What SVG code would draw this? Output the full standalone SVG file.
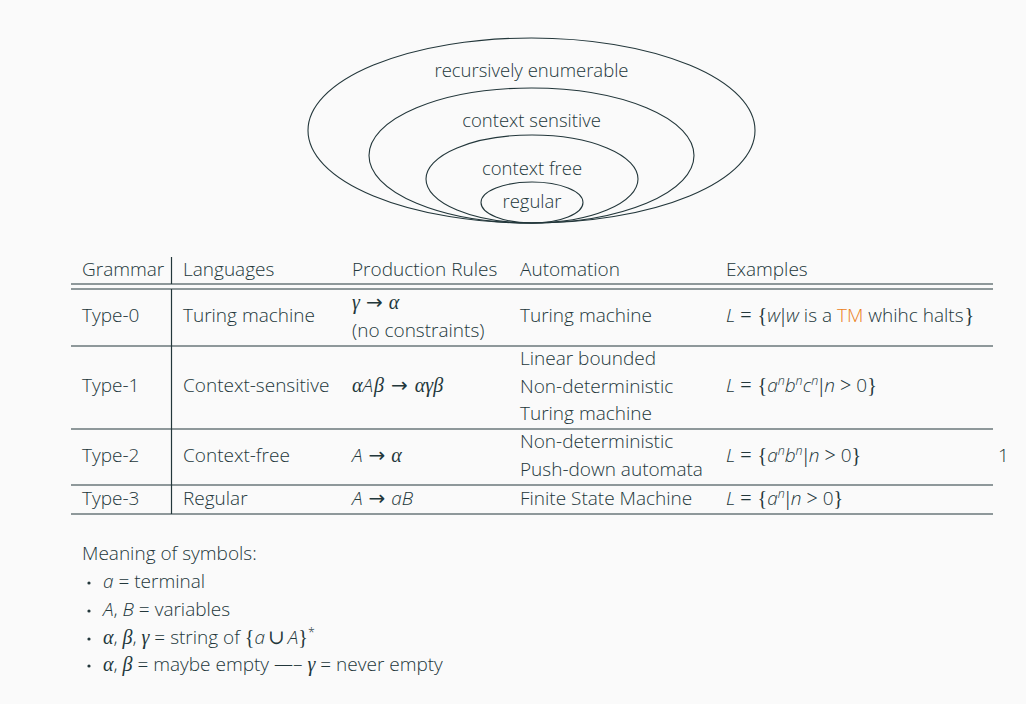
<svg xmlns="http://www.w3.org/2000/svg" width="1026" height="704" viewBox="0 0 1026 704">
  <style>
    .t { font-family: "Open Sans", "Noto Sans", sans-serif; font-weight: 300; font-size: 19px; fill: #23373b; }
    .s { font-size: 18.5px; }
    .mi { font-family: "Open Sans", "Noto Sans", sans-serif; font-style: italic; }
    .mg { font-family: "Liberation Serif", "DejaVu Serif", serif; font-style: italic; font-size: 20px; }
    .mr { font-family: "Liberation Serif", "DejaVu Serif", serif; font-size: 20px; }
    .ar { font-family: "DejaVu Sans", sans-serif; font-weight: normal; font-size: 20px; }
    .sup { font-size: 12.5px; }
    .alert { fill: #eb811b; }
    .ell { fill: none; stroke: #23373b; stroke-width: 1.1; }
    .rule { stroke: #23373b; stroke-width: 1.2; fill: none; }
  </style>
  <rect width="1026" height="704" fill="#fafafa"/>

  <!-- Chomsky hierarchy: nested language classes -->
  <g id="recursively-enumerable">
    <ellipse class="ell" cx="531.5" cy="130.5" rx="223.5" ry="92.5"/>
    <text class="t s" x="531.5" y="77" text-anchor="middle">recursively enumerable</text>
  </g>
  <g id="context-sensitive">
    <ellipse class="ell" cx="531.5" cy="155.5" rx="162.5" ry="67.5"/>
    <text class="t s" x="531.5" y="127" text-anchor="middle">context sensitive</text>
  </g>
  <g id="context-free">
    <ellipse class="ell" cx="532" cy="179" rx="106" ry="44"/>
    <text class="t s" x="532" y="175" text-anchor="middle">context free</text>
  </g>
  <g id="regular">
    <ellipse class="ell" cx="532" cy="202.5" rx="51" ry="20.5"/>
    <text class="t s" x="532" y="208" text-anchor="middle">regular</text>
  </g>

  <!-- Grammar table rules -->
  <g id="table-rules">
    <line class="rule" x1="171.5" y1="257" x2="171.5" y2="284"/>
    <line class="rule" x1="171.5" y1="289" x2="171.5" y2="514"/>
    <line class="rule" x1="71" y1="284" x2="993" y2="284"/>
    <line class="rule" x1="71" y1="289" x2="993" y2="289"/>
    <line class="rule" x1="71" y1="346" x2="993" y2="346"/>
    <line class="rule" x1="71" y1="429" x2="993" y2="429"/>
    <line class="rule" x1="71" y1="485" x2="993" y2="485"/>
    <line class="rule" x1="71" y1="514" x2="993" y2="514"/>
  </g>

  <!-- Header -->
  <g id="header">
    <text class="t" x="82" y="276">Grammar</text>
    <text class="t" x="183" y="276">Languages</text>
    <text class="t" x="352" y="276">Production Rules</text>
    <text class="t" x="520" y="276">Automation</text>
    <text class="t" x="726" y="276">Examples</text>
  </g>

  <!-- Type-0 -->
  <g id="type-0">
    <text class="t" x="82" y="322">Type-0</text>
    <text class="t" x="183" y="322">Turing machine</text>
    <text class="t" x="352" y="309"><tspan class="mg">γ</tspan><tspan class="ar" dx="6">→</tspan><tspan class="mg" dx="6">α</tspan></text>
    <text class="t" x="352" y="337">(no constraints)</text>
    <text class="t" x="520" y="322">Turing machine</text>
    <text class="t" x="726" y="322"><tspan class="mi">L</tspan><tspan class="mr" dx="5">=</tspan><tspan class="mr" dx="6">{</tspan><tspan class="mi">w</tspan><tspan class="mr" dx="1">|</tspan><tspan class="mi" dx="1">w</tspan> is a <tspan class="alert">TM</tspan> whihc halts<tspan class="mr" dx="1">}</tspan></text>
  </g>

  <!-- Type-1 -->
  <g id="type-1">
    <text class="t" x="82" y="392">Type-1</text>
    <text class="t" x="183" y="392">Context-sensitive</text>
    <text class="t" x="352" y="392"><tspan class="mg">α</tspan><tspan class="mi">A</tspan><tspan class="mg" dx="1">β</tspan><tspan class="ar" dx="7">→</tspan><tspan class="mg" dx="7">αγβ</tspan></text>
    <text class="t" x="520" y="365">Linear bounded</text>
    <text class="t" x="520" y="393">Non-deterministic</text>
    <text class="t" x="520" y="420">Turing machine</text>
    <text class="t" x="726" y="392"><tspan class="mi">L</tspan><tspan class="mr" dx="5">=</tspan><tspan class="mr" dx="6">{</tspan><tspan class="mi">a</tspan><tspan class="mi sup" dy="-7">n</tspan><tspan class="mi" dy="7">b</tspan><tspan class="mi sup" dy="-7">n</tspan><tspan class="mi" dy="7">c</tspan><tspan class="mi sup" dy="-7">n</tspan><tspan class="mr" dy="7" dx="1">|</tspan><tspan class="mi" dx="1">n</tspan><tspan class="mr" dx="5">&gt;</tspan><tspan dx="5">0</tspan><tspan class="mr">}</tspan></text>
  </g>

  <!-- Type-2 -->
  <g id="type-2">
    <text class="t" x="82" y="462">Type-2</text>
    <text class="t" x="183" y="462">Context-free</text>
    <text class="t" x="352" y="462"><tspan class="mi">A</tspan><tspan class="ar" dx="6">→</tspan><tspan class="mg" dx="6">α</tspan></text>
    <text class="t" x="520" y="448">Non-deterministic</text>
    <text class="t" x="520" y="476">Push-down automata</text>
    <text class="t" x="726" y="462"><tspan class="mi">L</tspan><tspan class="mr" dx="5">=</tspan><tspan class="mr" dx="6">{</tspan><tspan class="mi">a</tspan><tspan class="mi sup" dy="-7">n</tspan><tspan class="mi" dy="7">b</tspan><tspan class="mi sup" dy="-7">n</tspan><tspan class="mr" dy="7" dx="1">|</tspan><tspan class="mi" dx="1">n</tspan><tspan class="mr" dx="5">&gt;</tspan><tspan dx="5">0</tspan><tspan class="mr">}</tspan></text>
  </g>

  <!-- Type-3 -->
  <g id="type-3">
    <text class="t" x="82" y="505">Type-3</text>
    <text class="t" x="183" y="505">Regular</text>
    <text class="t" x="352" y="505"><tspan class="mi">A</tspan><tspan class="ar" dx="6">→</tspan><tspan class="mi" dx="6">aB</tspan></text>
    <text class="t" x="520" y="505">Finite State Machine</text>
    <text class="t" x="726" y="505"><tspan class="mi">L</tspan><tspan class="mr" dx="5">=</tspan><tspan class="mr" dx="6">{</tspan><tspan class="mi">a</tspan><tspan class="mi sup" dy="-7">n</tspan><tspan class="mr" dy="7" dx="1">|</tspan><tspan class="mi" dx="1">n</tspan><tspan class="mr" dx="5">&gt;</tspan><tspan dx="5">0</tspan><tspan class="mr">}</tspan></text>
  </g>

  <!-- Page number -->
  <text class="t" x="998" y="462">1</text>

  <!-- Legend -->
  <g id="legend">
    <text class="t" x="82" y="560">Meaning of symbols:</text>
    <circle cx="89" cy="583" r="1.6" fill="#23373b"/>
    <circle cx="89" cy="611" r="1.6" fill="#23373b"/>
    <circle cx="89" cy="639" r="1.6" fill="#23373b"/>
    <circle cx="89" cy="666" r="1.6" fill="#23373b"/>
    <text class="t" x="103" y="588"><tspan class="mi">a</tspan> = terminal</text>
    <text class="t" x="103" y="616"><tspan class="mi">A</tspan>, <tspan class="mi">B</tspan> = variables</text>
    <text class="t" x="103" y="644"><tspan class="mg">α</tspan>, <tspan class="mg">β</tspan>, <tspan class="mg">γ</tspan> = string of <tspan class="mr">{</tspan><tspan class="mi">a</tspan><tspan class="mr" dx="3">∪</tspan><tspan class="mi" dx="3">A</tspan><tspan class="mr">}</tspan><tspan class="sup" dy="-7">*</tspan></text>
    <text class="t" x="103" y="671"><tspan class="mg">α</tspan>, <tspan class="mg">β</tspan> = maybe empty —– <tspan class="mg">γ</tspan> = never empty</text>
  </g>
</svg>
